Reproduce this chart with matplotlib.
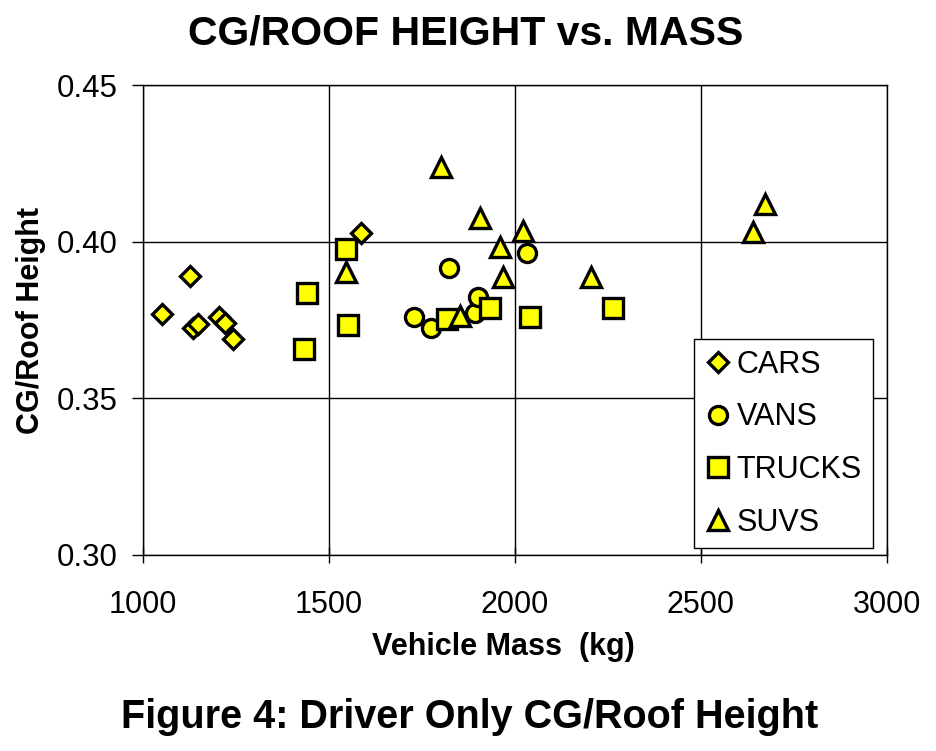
import matplotlib.pyplot as plt

plt.rcParams['font.family'] = ['Liberation Sans', 'DejaVu Sans']

# values
cars_mass = [1050, 1125, 1135, 1149, 1203, 1221, 1243, 1586]
cars_cg = [0.377, 0.389, 0.3724, 0.3736, 0.376, 0.3742, 0.3688, 0.4027]

vans_mass = [1728, 1773, 1822, 1892, 1901, 2031]
vans_cg = [0.376, 0.3724, 0.3917, 0.3773, 0.3822, 0.3963]

trucks_mass = [1432, 1441, 1547, 1550, 1816, 1932, 2040, 2264]
trucks_cg = [0.3657, 0.3835, 0.3976, 0.3734, 0.3752, 0.3787, 0.3759, 0.3787]

suvs_mass = [1546, 1802, 1851, 1907, 1959, 1968, 2022, 2205, 2641, 2672]
suvs_cg = [0.3904, 0.4239, 0.3763, 0.4075, 0.3982, 0.3888, 0.4035, 0.3888, 0.4032, 0.412]

fig = plt.figure(figsize=(9.36, 7.51), dpi=100)
ax = fig.add_axes([0.1528, 0.261, 0.7948, 0.6258])

yel = '#FFFF00'
kw = dict(linestyle='none', markerfacecolor=yel, markeredgecolor='black', markeredgewidth=2.4)
ax.plot(cars_mass, cars_cg, marker='D', markersize=10.5, label='CARS', **kw)
ax.plot(vans_mass, vans_cg, marker='o', markersize=13, label='VANS', **kw)
ax.plot(trucks_mass, trucks_cg, marker='s', markersize=14, label='TRUCKS', **kw)
ax.plot(suvs_mass, suvs_cg, marker='^', markersize=14, label='SUVS', **kw)

ax.set_xlim(1000, 3000)
ax.set_ylim(0.30, 0.45)
ax.set_xticks([1000, 1500, 2000, 2500, 3000])
ax.set_yticks([0.30, 0.35, 0.40, 0.45])
ax.set_yticklabels(['0.30', '0.35', '0.40', '0.45'])
ax.grid(True, color='black', linewidth=1)
ax.set_axisbelow(True)
for s in ax.spines.values():
    s.set_linewidth(1)
ax.tick_params(axis='x', direction='inout', length=11, width=1, labelsize=22, pad=20)
ax.tick_params(axis='y', direction='out', length=8, width=1, labelsize=22.5, pad=10)

ax.set_xlabel('Vehicle Mass  (kg)', fontsize=22, fontweight='bold', labelpad=8, x=0.484)
ax.set_ylabel('CG/Roof Height', fontsize=22, fontweight='bold', labelpad=8)

leg = ax.legend(loc='upper left', bbox_to_anchor=(0.7406, 0.4596), fontsize=22,
                frameon=True, fancybox=False, framealpha=1, edgecolor='black',
                handletextpad=0.15, handlelength=0.9, labelspacing=0.74,
                borderpad=0.35, borderaxespad=0)
leg.get_frame().set_linewidth(1)

fig.text(0.498, 0.956, 'CG/ROOF HEIGHT vs. MASS', fontsize=29.5, fontweight='bold',
         ha='center', va='center')
fig.text(0.502, 0.045, 'Figure 4: Driver Only CG/Roof Height', fontsize=28.5,
         fontweight='bold', ha='center', va='center')

fig.savefig('out.png', dpi=100)
